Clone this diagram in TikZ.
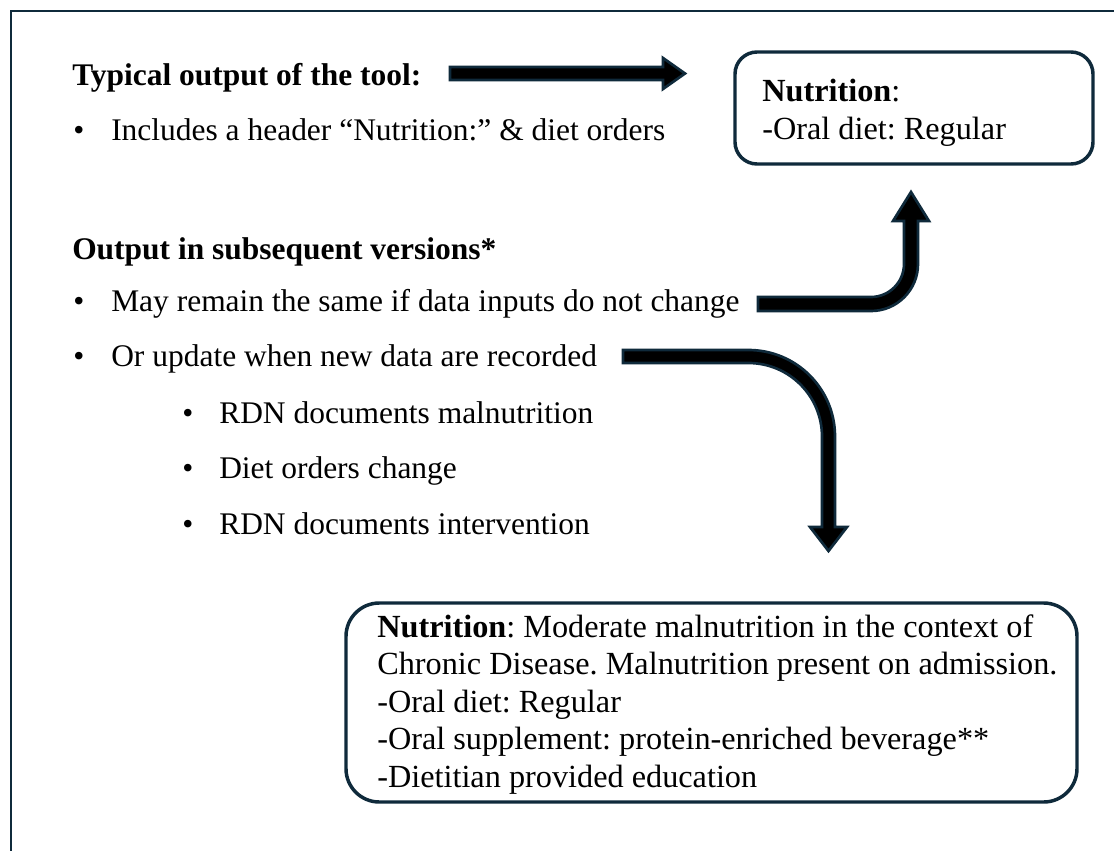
\documentclass[tikz,border=0pt]{standalone}
\usepackage{fontspec}
\setmainfont{Liberation Serif}
\definecolor{navy}{HTML}{0F2A3B}
\frenchspacing
\tikzset{
  txt/.style={anchor=base west, inner sep=0pt, font=\fontsize{23.6}{28.1}\selectfont},
  hd/.style={txt, font=\fontsize{23.6}{28.1}\selectfont\bfseries},
  btxt/.style={anchor=base west, inner sep=0pt, font=\fontsize{24.2}{28.1}\selectfont},
  roundbox/.style={draw=navy, line width=2.6pt},
  blockarrow/.style={fill=black, draw=navy, line width=2pt, line join=miter},
}
\begin{document}
\begin{tikzpicture}[x=0.75pt,y=-0.75pt]
\useasboundingbox[fill=white] (0,0) rectangle (1114,850);
% outer frame (left and top edges visible)
\draw[navy, line width=2.2pt] (11,852) -- (11,11) -- (1116,11);

% left text
\node[hd] (h1) at (72,85) {Typical output of the tool:};
\node[txt] (b1) at (73,140) {•};
\node[txt] (l1) at (111,140) {Includes a header “Nutrition:” \& diet orders};
\node[hd] (h2) at (72,259) {Output in subsequent versions*};
\node[txt] (b2) at (73,311) {•};
\node[txt] (l2) at (111,311) {May remain the same if data inputs do not change};
\node[txt] (b3) at (73,366) {•};
\node[txt] (l3) at (111,366) {Or update when new data are recorded};
\node[txt] (b4) at (182,423) {•};
\node[txt] (s1) at (219,423) {RDN documents malnutrition};
\node[txt] (b5) at (182,478) {•};
\node[txt] (s2) at (219,478) {Diet orders change};
\node[txt] (b6) at (182,534) {•};
\node[txt] (s3) at (219,534) {RDN documents intervention};

% top box
\draw[roundbox, rounded corners=16.5pt] (735,52) rectangle (1093,164);
\node[btxt] (n1) at (762,101) {\textbf{Nutrition}:};
\node[btxt] (n2) at (762,139) {-Oral diet: Regular};

% bottom box
\draw[roundbox, rounded corners=25pt] (346,603) rectangle (1077,802);
\node[btxt] (m1) at (377,637) {\textbf{Nutrition}: Moderate malnutrition in the context of};
\node[btxt] (m2) at (377,674.5) {Chronic Disease. Malnutrition present on admission.};
\node[btxt] (m3) at (377,712) {-Oral diet: Regular};
\node[btxt] (m4) at (377,749.5) {-Oral supplement: protein-enriched beverage**};
\node[btxt] (m5) at (377,787) {-Dietitian provided education};

% arrow 1: straight
\draw[blockarrow] (450,67) -- (663,67) -- (663,58) -- (685,73.5) -- (663,89) -- (663,80) -- (450,80) -- cycle;

% arrow 2: right then up
\draw[blockarrow] (758,297) -- (871,297) arc[start angle=90, end angle=0, radius=33]
  -- (904,221) -- (893,221) -- (911,192) -- (929,221) -- (918,221)
  -- (918,264) arc[start angle=0, end angle=90, radius=47] -- (758,311) -- cycle;

% arrow 3: right then down
\draw[blockarrow] (623,350) -- (748.5,350) arc[start angle=-90, end angle=0, radius=86.5]
  -- (835,527) -- (847,527) -- (828.5,551) -- (810,527) -- (822,527)
  -- (822,436.5) arc[start angle=0, end angle=-90, radius=73.5] -- (623,363) -- cycle;
\end{tikzpicture}
\end{document}
